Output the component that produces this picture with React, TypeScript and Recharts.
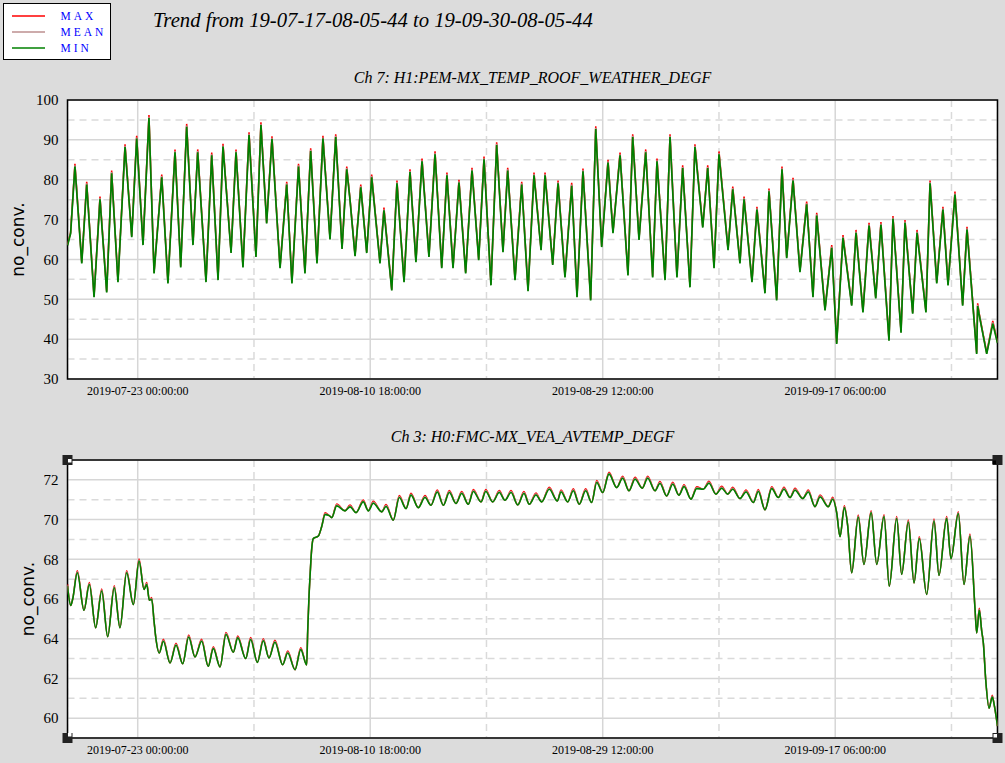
import React from 'react';
import { LineChart, Line, XAxis, YAxis, CartesianGrid, ReferenceArea, ReferenceDot } from 'recharts';

// ---------- series meta ----------
const seriesNames = ['MAX', 'MEAN', 'MIN'];
const seriesKeys = ['max', 'mean', 'min'];
const seriesColors = ['#ff0000', '#bc8f8f', '#008000'];

// ---------- time axis (days since 2019-07-17 08:05:44) ----------
const xDomain = [0, 75];
const xMajorTicks = [5.6627, 24.4127, 43.1627, 61.9127];
const xMinorTicks = [15.0377, 33.7877, 52.5377, 71.2877];
const xTickLabels = ['2019-07-23 00:00:00', '2019-08-10 18:00:00', '2019-08-29 12:00:00', '2019-09-17 06:00:00'];

const titleText = 'Trend from 19-07-17-08-05-44 to 19-09-30-08-05-44';
const topTitle = 'Ch 7: H1:PEM-MX_TEMP_ROOF_WEATHER_DEGF';
const bottomTitle = 'Ch 3: H0:FMC-MX_VEA_AVTEMP_DEGF';
const yAxisLabel = 'no_conv.';

// ---------- top chart ----------
const topYDomain = [30, 100];
const topYMajor = [30, 40, 50, 60, 70, 80, 90, 100];
const topYMinor = [35, 45, 55, 65, 75, 85, 95];

const topTime = [
  0, 0.25, 0.6, 1.15, 1.55, 2.14, 2.62, 3.16, 3.56, 4.07,
  4.64, 5.18, 5.58, 6.09, 6.57, 6.98, 7.6, 8.1, 8.67, 9.13,
  9.61, 10.12, 10.5, 11.17, 11.63, 12.14, 12.54, 13.19, 13.59, 14.15,
  14.64, 15.2, 15.6, 16.06, 16.49, 17.14, 17.68, 18.1, 18.63, 19.15,
  19.61, 20.12, 20.6, 21.17, 21.63, 22.14, 22.52, 22.78, 23.19, 23.65,
  24.13, 24.53, 25.2, 25.52, 26.15, 26.57, 27.14, 27.62, 28.1, 28.59,
  29.15, 29.64, 30.18, 30.6, 31.09, 31.57, 32.11, 32.62, 33.16, 33.59,
  34.15, 34.61, 35.12, 35.5, 36.09, 36.63, 37.14, 37.62, 38.19, 38.51,
  39.13, 39.56, 40.12, 40.66, 41.09, 41.57, 42.19, 42.6, 43.08, 43.59,
  43.99, 44.56, 45.2, 45.58, 46.09, 46.63, 47.19, 47.54, 48.19, 48.59,
  49.15, 49.61, 50.2, 50.6, 51.23, 51.63, 52.14, 52.54, 53.27, 53.65,
  54.23, 54.56, 55.2, 55.6, 56.25, 56.57, 57.19, 57.62, 58, 58.51,
  59.07, 59.61, 60.12, 60.42, 61.09, 61.63, 62.03, 62.54, 63.24, 63.59,
  64.15, 64.64, 65.18, 65.6, 66.25, 66.57, 67.22, 67.54, 68.16, 68.51,
  69.23, 69.56, 70.1, 70.6, 71.01, 71.57, 72.19, 72.54, 73.32, 73.4,
  73.59, 74.13, 74.62, 75,
];
const topMax = [
  63.8, 66.8, 84, 59.3, 79.5, 50.8, 75.8, 52, 82.3, 54.6,
  88.9, 65.9, 91, 63.9, 96.2, 56.8, 81.3, 54.3, 87.6, 58.3,
  94, 63.9, 87.6, 54.6, 86.8, 55.1, 89, 61.9, 87.6, 58.3,
  91.9, 60.9, 94.4, 69.3, 90.9, 58.1, 79.5, 54.3, 84, 56.8,
  87.9, 59.3, 91, 65.3, 91.4, 62.9, 83.3, 75.3, 61.1, 78.8,
  61.9, 81.3, 59.3, 73, 52.5, 79.8, 54.6, 82.6, 59.6, 85.3,
  60.9, 87.1, 58.1, 81.8, 58.1, 80, 56.8, 83, 60.1, 85.8,
  53.8, 89.4, 62.1, 83, 55.1, 79.5, 52.3, 81.8, 62.6, 81.8,
  58.9, 79.8, 55.8, 79.2, 50.8, 82.8, 50, 93.4, 63.4, 85,
  66.9, 86.8, 56.3, 91.4, 65.2, 87.6, 55.8, 85.3, 55.1, 91.4,
  55.8, 83.6, 53.3, 88.9, 68.3, 83.6, 58.1, 87.1, 62.6, 78.3,
  59.3, 75.8, 54.6, 73.2, 51.8, 77.8, 50, 83.3, 60.6, 80.5,
  57.1, 74.5, 50.8, 71.7, 47.5, 63.6, 39.1, 66.1, 48.7, 67.4,
  47, 69.2, 50.5, 69.4, 39.9, 70.9, 41.9, 69.9, 46.7, 67.4,
  47, 79.8, 54.3, 73.2, 53.8, 77, 48.7, 68.2, 36.6, 49,
  45.3, 36.6, 44.6, 39.3,
];
const topMean = [
  63.6, 66.6, 83.6, 59.1, 79.1, 50.6, 75.4, 51.8, 81.9, 54.4,
  88.5, 65.7, 90.6, 63.7, 95.8, 56.6, 80.9, 54.1, 87.2, 58.1,
  93.6, 63.7, 87.2, 54.4, 86.4, 54.9, 88.6, 61.7, 87.2, 58.1,
  91.5, 60.7, 94, 69.1, 90.5, 57.9, 79.1, 54.1, 83.6, 56.6,
  87.5, 59.1, 90.6, 65.1, 91, 62.7, 82.9, 75.1, 60.9, 78.4,
  61.7, 80.9, 59.1, 72.6, 52.3, 79.4, 54.4, 82.2, 59.4, 84.9,
  60.7, 86.7, 57.9, 81.4, 57.9, 79.6, 56.6, 82.6, 59.9, 85.4,
  53.6, 89, 61.9, 82.6, 54.9, 79.1, 52.1, 81.4, 62.4, 81.4,
  58.7, 79.4, 55.6, 78.8, 50.6, 82.4, 49.8, 93, 63.2, 84.6,
  66.7, 86.4, 56.1, 91, 65, 87.2, 55.6, 84.9, 54.9, 91,
  55.6, 83.2, 53.1, 88.5, 68.1, 83.2, 57.9, 86.7, 62.4, 77.9,
  59.1, 75.4, 54.4, 72.8, 51.6, 77.4, 49.8, 82.9, 60.4, 80.1,
  56.9, 74.1, 50.6, 71.3, 47.3, 63.2, 38.9, 65.7, 48.5, 67,
  46.8, 68.8, 50.3, 69, 39.7, 70.5, 41.7, 69.5, 46.5, 67,
  46.8, 79.4, 54.1, 72.8, 53.6, 76.6, 48.5, 67.8, 36.4, 48.6,
  45.1, 36.4, 44.2, 39.1,
];
const topMin = [
  63.5, 66.5, 83.3, 59, 78.8, 50.5, 75.1, 51.7, 81.6, 54.3,
  88.2, 65.6, 90.3, 63.6, 95.5, 56.5, 80.6, 54, 86.9, 58,
  93.3, 63.6, 86.9, 54.3, 86.1, 54.8, 88.3, 61.6, 86.9, 58,
  91.2, 60.6, 93.7, 69, 90.2, 57.8, 78.8, 54, 83.3, 56.5,
  87.2, 59, 90.3, 65, 90.7, 62.6, 82.6, 75, 60.8, 78.1,
  61.6, 80.6, 59, 72.3, 52.2, 79.1, 54.3, 81.9, 59.3, 84.6,
  60.6, 86.4, 57.8, 81.1, 57.8, 79.3, 56.5, 82.3, 59.8, 85.1,
  53.5, 88.7, 61.8, 82.3, 54.8, 78.8, 52, 81.1, 62.3, 81.1,
  58.6, 79.1, 55.5, 78.5, 50.5, 82.1, 49.7, 92.7, 63.1, 84.3,
  66.6, 86.1, 56, 90.7, 64.9, 86.9, 55.5, 84.6, 54.8, 90.7,
  55.5, 82.9, 53, 88.2, 68, 82.9, 57.8, 86.4, 62.3, 77.6,
  59, 75.1, 54.3, 72.5, 51.5, 77.1, 49.7, 82.6, 60.3, 79.8,
  56.8, 73.8, 50.5, 71, 47.2, 62.9, 38.8, 65.4, 48.4, 66.7,
  46.7, 68.5, 50.2, 68.7, 39.6, 70.2, 41.6, 69.2, 46.4, 66.7,
  46.7, 79.1, 54, 72.5, 53.5, 76.3, 48.4, 67.5, 36.3, 48.3,
  45, 36.3, 43.9, 39,
];

// ---------- bottom chart ----------
const bottomYDomain = [59, 73];
const bottomYMajor = [60, 62, 64, 66, 68, 70, 72];
const bottomYMinor = [61, 63, 65, 67, 69, 71];

const bottomTime = [
  0, 0.26, 0.42, 0.79, 1.33, 1.76, 2.27, 2.76, 3.24, 3.77,
  4.23, 4.77, 5.31, 5.77, 6.17, 6.39, 6.6, 6.79, 6.98, 7.14,
  7.4, 7.73, 8.27, 8.75, 9.29, 9.77, 10.28, 10.82, 11.35, 11.76,
  12.3, 12.78, 13.37, 13.73, 14.37, 14.77, 15.31, 15.79, 16.25, 16.73,
  17.35, 17.76, 18.35, 18.81, 19.29, 19.37, 19.48, 19.56, 19.69, 19.82,
  20.23, 20.5, 20.77, 21.11, 21.31, 21.71, 22.38, 22.78, 23.27, 23.85,
  24.26, 24.66, 25.34, 25.69, 26.27, 26.76, 27.3, 27.7, 28.29, 28.83,
  29.31, 29.82, 30.31, 30.79, 31.33, 31.79, 32.32, 32.73, 33.35, 33.73,
  34.29, 34.82, 35.28, 35.77, 36.31, 36.81, 37.24, 37.78, 38.24, 38.85,
  39.5, 39.8, 40.34, 40.79, 41.27, 41.79, 42.27, 42.68, 43.16, 43.67,
  44.29, 44.77, 45.28, 45.77, 46.35, 46.79, 47.38, 47.78, 48.32, 48.81,
  49.31, 49.72, 50.28, 50.74, 51.27, 51.73, 52.3, 52.76, 53.24, 53.65,
  54.23, 54.72, 55.31, 55.71, 56.25, 56.79, 57.32, 57.78, 58.27, 58.67,
  59.29, 59.74, 60.28, 60.69, 61.35, 61.71, 62.03, 62.3, 62.65, 62.92,
  63.24, 63.77, 64.23, 64.81, 65.26, 65.85, 66.27, 66.87, 67.27, 67.81,
  68.27, 68.69, 69.29, 69.88, 70.28, 70.9, 71.25, 71.84, 72.3, 72.78,
  73.19, 73.32, 73.53, 73.73, 73.86, 74.05, 74.32, 74.58, 74.72, 75,
];
const bottomMax = [
  66.75, 65.67, 66.0, 67.42, 65.43, 66.83, 64.55, 66.5, 64.1, 66.67,
  64.55, 67.42, 65.72, 68.01, 66.48, 66.83, 65.94, 66.08, 64.88, 63.96,
  63.28, 63.97, 62.78, 63.77, 62.74, 64.19, 63.08, 63.97, 62.61, 63.6,
  62.58, 64.31, 63.32, 64.14, 63.0, 64.06, 62.81, 64.0, 63.03, 63.92,
  62.69, 63.38, 62.44, 63.55, 62.68, 64.37, 66.2, 67.15, 68.5, 69.04,
  69.17, 69.65, 70.35, 70.2, 70.1, 70.79, 70.44, 70.74, 70.35, 70.99,
  70.44, 70.92, 70.39, 70.76, 69.97, 71.21, 70.55, 71.33, 70.6, 71.21,
  70.72, 71.49, 70.72, 71.46, 70.81, 71.41, 70.77, 71.51, 70.89, 71.51,
  70.89, 71.46, 70.97, 71.46, 70.74, 71.41, 70.77, 71.34, 70.89, 71.63,
  70.94, 71.49, 70.89, 71.55, 70.77, 71.55, 70.86, 71.97, 71.36, 72.39,
  71.61, 72.18, 71.45, 72.13, 71.58, 72.18, 71.45, 71.92, 71.19, 71.88,
  71.23, 71.76, 71.03, 71.66, 71.53, 71.93, 71.28, 71.68, 71.28, 71.63,
  71.06, 71.49, 70.86, 71.51, 70.49, 71.66, 71.11, 71.63, 71.11, 71.58,
  71.06, 71.49, 70.65, 71.24, 70.65, 71.12, 70.35, 69.14, 70.7, 69.68,
  67.32, 70.23, 67.74, 70.45, 67.74, 70.25, 66.65, 70.15, 67.24, 69.98,
  66.81, 69.14, 66.23, 70.03, 67.19, 70.15, 68.03, 70.4, 66.73, 69.27,
  65.47, 64.29, 65.53, 64.37, 63.78, 61.93, 60.5, 61.16, 60.72, 59.6,
];
const bottomMean = [
  66.7, 65.67, 66.0, 67.37, 65.43, 66.78, 64.55, 66.45, 64.1, 66.62,
  64.55, 67.37, 65.72, 67.96, 66.48, 66.78, 65.94, 66.03, 64.88, 63.96,
  63.28, 63.92, 62.78, 63.72, 62.74, 64.14, 63.08, 63.92, 62.61, 63.55,
  62.58, 64.26, 63.32, 64.09, 63.0, 64.01, 62.81, 63.95, 63.03, 63.87,
  62.69, 63.33, 62.44, 63.5, 62.68, 64.37, 66.2, 67.15, 68.5, 69.04,
  69.17, 69.65, 70.3, 70.2, 70.1, 70.74, 70.44, 70.69, 70.35, 70.94,
  70.44, 70.87, 70.39, 70.71, 69.97, 71.16, 70.55, 71.28, 70.6, 71.16,
  70.72, 71.44, 70.72, 71.41, 70.81, 71.36, 70.77, 71.46, 70.89, 71.46,
  70.89, 71.41, 70.97, 71.41, 70.74, 71.36, 70.77, 71.29, 70.89, 71.58,
  70.94, 71.44, 70.89, 71.5, 70.77, 71.5, 70.86, 71.92, 71.36, 72.34,
  71.61, 72.13, 71.45, 72.08, 71.58, 72.13, 71.45, 71.87, 71.19, 71.83,
  71.23, 71.71, 71.03, 71.61, 71.53, 71.88, 71.28, 71.63, 71.28, 71.58,
  71.06, 71.44, 70.86, 71.46, 70.49, 71.61, 71.11, 71.58, 71.11, 71.53,
  71.06, 71.44, 70.65, 71.19, 70.65, 71.07, 70.35, 69.14, 70.65, 69.68,
  67.32, 70.18, 67.74, 70.4, 67.74, 70.2, 66.65, 70.1, 67.24, 69.93,
  66.81, 69.09, 66.23, 69.98, 67.19, 70.1, 68.03, 70.35, 66.73, 69.22,
  65.47, 64.29, 65.48, 64.37, 63.78, 61.93, 60.5, 61.11, 60.72, 59.6,
];
const bottomMin = [
  66.65, 65.67, 66.0, 67.32, 65.43, 66.73, 64.55, 66.4, 64.1, 66.57,
  64.55, 67.32, 65.72, 67.91, 66.48, 66.73, 65.94, 65.98, 64.88, 63.96,
  63.28, 63.87, 62.78, 63.67, 62.74, 64.09, 63.08, 63.87, 62.61, 63.5,
  62.58, 64.21, 63.32, 64.04, 63.0, 63.96, 62.81, 63.9, 63.03, 63.82,
  62.69, 63.28, 62.44, 63.45, 62.68, 64.37, 66.2, 67.15, 68.5, 69.04,
  69.17, 69.65, 70.25, 70.2, 70.1, 70.69, 70.44, 70.64, 70.35, 70.89,
  70.44, 70.82, 70.39, 70.66, 69.97, 71.11, 70.55, 71.23, 70.6, 71.11,
  70.72, 71.39, 70.72, 71.36, 70.81, 71.31, 70.77, 71.41, 70.89, 71.41,
  70.89, 71.36, 70.97, 71.36, 70.74, 71.31, 70.77, 71.24, 70.89, 71.53,
  70.94, 71.39, 70.89, 71.45, 70.77, 71.45, 70.86, 71.87, 71.36, 72.29,
  71.61, 72.08, 71.45, 72.03, 71.58, 72.08, 71.45, 71.82, 71.19, 71.78,
  71.23, 71.66, 71.03, 71.56, 71.53, 71.83, 71.28, 71.58, 71.28, 71.53,
  71.06, 71.39, 70.86, 71.41, 70.49, 71.56, 71.11, 71.53, 71.11, 71.48,
  71.06, 71.39, 70.65, 71.14, 70.65, 71.02, 70.35, 69.14, 70.6, 69.68,
  67.32, 70.13, 67.74, 70.35, 67.74, 70.15, 66.65, 70.05, 67.24, 69.88,
  66.81, 69.04, 66.23, 69.93, 67.19, 70.05, 68.03, 70.3, 66.73, 69.17,
  65.47, 64.29, 65.43, 64.37, 63.78, 61.93, 60.5, 61.06, 60.72, 59.6,
];

// ---------- build tables ----------
const buildRows = (time: number[], mx: number[], mn: number[], lo: number[]) =>
  time.map((t, i) => ({ t, max: mx[i], mean: mn[i], min: lo[i] }));

const topData = buildRows(topTime, topMax, topMean, topMin);
const bottomData = buildRows(bottomTime, bottomMax, bottomMean, bottomMin);

const SERIF = '"Liberation Serif", "Times New Roman", serif';
const SANS = '"DejaVu Sans", sans-serif';

const Handle = (props: any) => {
  const { cx, cy, inner } = props;
  return (
    <g>
      <rect x={cx - 5} y={cy - 5} width={10} height={10} fill="#222" />
      {inner ? <rect x={cx + inner[0]} y={cy + inner[1]} width={3.5} height={3.5} fill={inner[2]} /> : null}
    </g>
  );
};

type PanelProps = {
  data: any[];
  yDomain: number[];
  yMajor: number[];
  yMinor: number[];
  height: number;
  marginTop: number;
  xAxisHeight: number;
  lineType: any;
  strokeW: number;
  labelDx: number;
  handles: boolean;
};

function Panel(p: PanelProps) {
  const tickStyle = { fontFamily: SERIF, fill: '#000' };
  return (
    <LineChart width={1005} height={p.height} data={p.data} margin={{ top: p.marginTop, right: 7.5, bottom: 1, left: 7.5 }}>
      <XAxis
        dataKey="t"
        type="number"
        domain={xDomain}
        ticks={xMajorTicks}
        allowDataOverflow
        tickFormatter={(v: number, i: number) => xTickLabels[i]}
        tickLine={false}
        axisLine={false}
        tickSize={0}
        tickMargin={7}
        height={p.xAxisHeight}
        tick={{ ...tickStyle, fontSize: 12 }}
        interval={0}
      />
      <XAxis xAxisId="minor" dataKey="t" type="number" domain={xDomain} ticks={xMinorTicks} allowDataOverflow hide />
      <YAxis
        type="number"
        domain={p.yDomain}
        ticks={p.yMajor}
        allowDataOverflow
        tickLine={false}
        axisLine={false}
        tickSize={0}
        tickMargin={9}
        width={60}
        interval={0}
        tick={{ ...tickStyle, fontSize: 15 }}
        label={{
          content: (lp: any) => {
            const vb = lp.viewBox || { x: 0, y: 0, width: 0, height: 0 };
            const cx = vb.x + p.labelDx;
            const cy = vb.y + vb.height / 2;
            return (
              <text
                x={cx}
                y={cy}
                transform={`rotate(-90, ${cx}, ${cy})`}
                textAnchor="middle"
                dominantBaseline="central"
                style={{ fontFamily: SANS, fontSize: 17, fill: '#000' }}
              >
                {yAxisLabel}
              </text>
            );
          },
        }}
      />
      <YAxis yAxisId="minor" type="number" domain={p.yDomain} ticks={p.yMinor} allowDataOverflow hide />
      <CartesianGrid fill="#ffffff" stroke="#d6d6d6" strokeWidth={1.5} />
      <CartesianGrid xAxisId="minor" yAxisId="minor" stroke="#dadada" strokeWidth={1.5} strokeDasharray="7 5" />
      {seriesKeys.map((k, i) => (
        <Line
          key={k}
          dataKey={k}
          name={seriesNames[i]}
          type={p.lineType}
          stroke={seriesColors[i]}
          strokeWidth={i === 2 ? p.strokeW : p.strokeW * 0.9}
          dot={false}
          activeDot={false}
          isAnimationActive={false}
        />
      ))}
      <ReferenceArea
        x1={xDomain[0]}
        x2={xDomain[1]}
        y1={p.yDomain[0]}
        y2={p.yDomain[1]}
        fill="none"
        fillOpacity={0}
        stroke="#000"
        strokeWidth={1.5}
        ifOverflow="visible"
      />
      {p.handles ? (
        <>
          <ReferenceDot x={xDomain[0]} y={p.yDomain[1]} ifOverflow="visible" shape={(sp: any) => <Handle {...sp} inner={[0.5, -1, '#fff']} />} />
          <ReferenceDot x={xDomain[1]} y={p.yDomain[1]} ifOverflow="visible" shape={(sp: any) => <Handle {...sp} inner={[-5, 0.5, '#000']} />} />
          <ReferenceDot x={xDomain[0]} y={p.yDomain[0]} ifOverflow="visible" shape={(sp: any) => <Handle {...sp} inner={[0.5, -5, '#fff']} />} />
          <ReferenceDot x={xDomain[1]} y={p.yDomain[0]} ifOverflow="visible" shape={(sp: any) => <Handle {...sp} inner={[-4, -4, '#fff']} />} />
        </>
      ) : null}
    </LineChart>
  );
}

function LegendBox() {
  return (
    <div
      style={{
        position: 'absolute',
        left: 3,
        top: 3,
        width: 106,
        height: 55,
        background: '#fff',
        border: '1.5px solid #000',
      }}
    >
      {seriesNames.map((n, i) => (
        <div key={n} style={{ position: 'absolute', left: 0, top: 5 + i * 16, height: 14, width: 106 }}>
          <svg width={40} height={14} style={{ position: 'absolute', left: 7.5, top: 0 }}>
            <line x1={0} y1={7} x2={33} y2={7} stroke={seriesColors[i]} strokeWidth={1.5} />
          </svg>
          <span
            style={{
              position: 'absolute',
              left: 56.5,
              top: 0,
              lineHeight: '14px',
              fontFamily: SERIF,
              fontSize: 11.5,
              letterSpacing: 3,
              color: '#0000ff',
              whiteSpace: 'nowrap',
            }}
          >
            {n}
          </span>
        </div>
      ))}
    </div>
  );
}

const titleStyle: React.CSSProperties = {
  position: 'absolute',
  fontFamily: SERIF,
  fontStyle: 'italic',
  color: '#000',
  whiteSpace: 'nowrap',
};

export default function App() {
  return (
    <div style={{ position: 'absolute', left: 0, top: 0, width: 1005, height: 763, background: '#dcdcdc', overflow: 'hidden' }}>
      <div style={{ position: 'absolute', left: 0, top: 0 }}>
        <Panel
          data={topData}
          yDomain={topYDomain}
          yMajor={topYMajor}
          yMinor={topYMinor}
          height={400}
          marginTop={100}
          xAxisHeight={20}
          lineType="linear"
          strokeW={1.7}
          labelDx={10}
          handles={false}
        />
      </div>
      <div style={{ position: 'absolute', left: 0, top: 400 }}>
        <Panel
          data={bottomData}
          yDomain={bottomYDomain}
          yMajor={bottomYMajor}
          yMinor={bottomYMinor}
          height={363}
          marginTop={60}
          xAxisHeight={24}
          lineType="monotone"
          strokeW={1.6}
          labelDx={20}
          handles={true}
        />
      </div>
      <LegendBox />
      <div style={{ ...titleStyle, left: 153, top: 10, fontSize: 20.7, lineHeight: '20.7px' }}>{titleText}</div>
      <div style={{ ...titleStyle, left: 67.5, width: 930, textAlign: 'center', top: 70, fontSize: 16, lineHeight: '16px' }}>{topTitle}</div>
      <div style={{ ...titleStyle, left: 67.5, width: 930, textAlign: 'center', top: 429, fontSize: 16, lineHeight: '16px' }}>{bottomTitle}</div>
    </div>
  );
}
